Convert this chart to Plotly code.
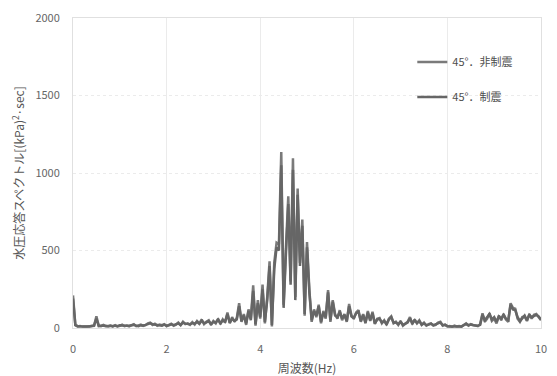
import plotly.graph_objects as go

freq = [round(0.05 * i, 2) for i in range(201)]

non_damped = [
    210, 20, 12, 10, 8, 10, 9, 12, 15, 14,
    75, 15, 12, 20, 14, 10, 16, 12, 18, 10,
    14, 22, 12, 16, 10, 20, 25, 12, 15, 22,
    14, 18, 30, 35, 20, 28, 15, 22, 18, 25,
    12, 20, 28, 15, 22, 35, 18, 40, 25, 30,
    20, 38, 22, 45, 30, 55, 25, 40, 50, 20,
    45, 30, 60, 25, 55, 35, 100, 30, 70, 40,
    65, 160, 40, 90, 20, 120, 60, 275, 15, 180,
    60, 280, 30, 200, 430, 10, 420, 550, 540, 1135,
    150, 520, 850, 300, 1095, 200, 900, 420, 700, 80,
    555, 250, 40, 120, 70, 150, 30, 110, 60, 245,
    40, 180, 90, 60, 115, 50, 90, 40, 155, 80,
    60, 100, 115, 40, 90, 30, 110, 45, 105, 25,
    60, 65, 30, 50, 20, 60, 75, 30, 40, 20,
    45, 15, 30, 40, 70, 25, 55, 30, 50, 20,
    35, 15, 25, 30, 15, 20, 35, 40, 15, 20,
    10, 12, 8, 15, 10, 12, 8, 20, 30, 15,
    25, 20, 18, 12, 25, 95, 40, 60, 95, 45,
    60, 30, 80, 50, 90, 55, 40, 160, 130, 125,
    60, 40, 70, 75, 45, 90, 60, 85, 90, 70,
    50,
]

damped = [
    190, 18, 10, 12, 9, 8, 11, 10, 13, 16,
    60, 12, 14, 16, 12, 13, 14, 10, 15, 12,
    18, 16, 14, 12, 14, 18, 20, 15, 12, 18,
    16, 20, 25, 30, 24, 22, 18, 20, 15, 22,
    15, 18, 24, 18, 26, 30, 20, 35, 28, 25,
    24, 32, 28, 40, 26, 48, 30, 36, 44, 25,
    40, 35, 55, 30, 50, 40, 90, 35, 60, 45,
    55, 140, 45, 80, 30, 110, 50, 240, 25, 160,
    70, 250, 40, 180, 400, 20, 380, 520, 500, 1050,
    130, 480, 800, 280, 1020, 180, 860, 400, 660, 90,
    520, 230, 50, 110, 80, 140, 40, 100, 70, 230,
    50, 170, 80, 70, 105, 60, 85, 45, 140, 75,
    65, 95, 105, 45, 85, 35, 100, 50, 95, 30,
    55, 60, 35, 45, 25, 55, 70, 35, 35, 25,
    40, 20, 28, 35, 62, 30, 50, 32, 45, 22,
    30, 18, 22, 28, 18, 22, 30, 36, 18, 22,
    12, 10, 10, 12, 12, 10, 10, 18, 26, 18,
    22, 18, 15, 14, 20, 85, 50, 70, 90, 55,
    70, 40, 75, 60, 85, 60, 50, 150, 120, 115,
    70, 45, 60, 80, 50, 85, 70, 80, 85, 75,
    55,
]

x_ticks = [0, 2, 4, 6, 8, 10]
y_ticks = [0, 500, 1000, 1500, 2000]

fig = go.Figure()
fig.add_trace(go.Scatter(
    x=freq, y=non_damped, mode="lines", name="45°．非制震",
    line=dict(color="#7a7a7a", width=2.5), legend="legend",
))
fig.add_trace(go.Scatter(
    x=freq, y=damped, mode="lines", name="45°．制震",
    line=dict(color="#666666", width=2.5), legend="legend2",
))

font_family = "Noto Sans CJK JP, Noto Sans, sans-serif"

fig.update_layout(
    width=557, height=376,
    margin=dict(l=73, r=16, t=18, b=48),
    paper_bgcolor="white", plot_bgcolor="white",
    font=dict(family=font_family, color="#555555", size=11),
    showlegend=True,
    legend=dict(x=0.725, y=0.858, xanchor="left", yanchor="middle",
                bgcolor="rgba(0,0,0,0)", font=dict(size=11, color="#4d4d4d")),
    legend2=dict(x=0.725, y=0.745, xanchor="left", yanchor="middle",
                 bgcolor="rgba(0,0,0,0)", font=dict(size=11, color="#4d4d4d")),
    xaxis=dict(
        range=[0, 10], tickvals=x_ticks, ticktext=[str(v) for v in x_ticks],
        showgrid=True, gridcolor="#ebebeb", gridwidth=1,
        showline=True, linecolor="#e0e0e0", mirror=True,
        zeroline=False, ticks="", ticklabelstandoff=11, automargin=False,
        tickfont=dict(size=11, color="#666666"),
        title=dict(text="周波数(Hz)", font=dict(size=12, color="#555555"), standoff=10),
    ),
    yaxis=dict(
        range=[0, 2000], tickvals=y_ticks, ticktext=[str(v) for v in y_ticks],
        showgrid=True, gridcolor="#ebebeb", gridwidth=1, griddash="dot",
        showline=True, linecolor="#e0e0e0", mirror=True,
        zeroline=False, ticks="", ticklabelstandoff=10, automargin=False,
        tickfont=dict(size=11, color="#666666"),
        title=dict(text="水圧応答スペクトル[(kPa)<sup>2</sup>·sec]",
                   font=dict(size=12, color="#555555"), standoff=8),
    ),
)

fig.write_html("out.html")
